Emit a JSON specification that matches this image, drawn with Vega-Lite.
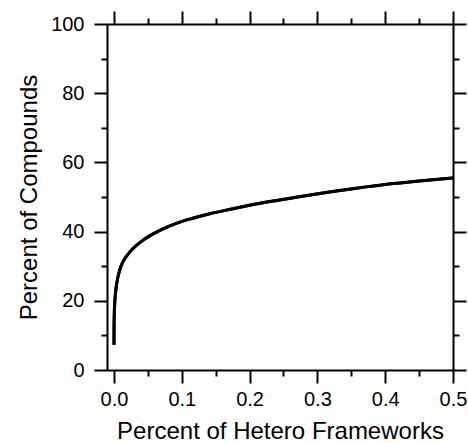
{
  "$schema": "https://vega.github.io/schema/vega-lite/v6.json",
  "width": 346,
  "height": 346,
  "autosize": {"type": "none"},
  "padding": {"left": 107, "top": 24, "right": 15, "bottom": 73},
  "config": {
    "view": {"stroke": null},
    "axis": {
      "labelFont": "Liberation Sans",
      "titleFont": "Liberation Sans",
      "labelFontSize": 20,
      "titleFontSize": 24,
      "titleFontWeight": "normal",
      "labelColor": "black",
      "titleColor": "black",
      "domainColor": "black",
      "tickColor": "black",
      "domainWidth": 2,
      "tickWidth": 2,
      "grid": false
    }
  },
  "data": {
    "values": [
      {"hetero": 0.0, "compounds": 7.3},
      {"hetero": 0.00005, "compounds": 10.0},
      {"hetero": 0.0002, "compounds": 13.5},
      {"hetero": 0.0005, "compounds": 16.5},
      {"hetero": 0.001, "compounds": 19.0},
      {"hetero": 0.002, "compounds": 21.8},
      {"hetero": 0.0035, "compounds": 24.3},
      {"hetero": 0.0055, "compounds": 26.6},
      {"hetero": 0.008, "compounds": 28.6},
      {"hetero": 0.011, "compounds": 30.3},
      {"hetero": 0.015, "compounds": 31.9},
      {"hetero": 0.02, "compounds": 33.3},
      {"hetero": 0.026, "compounds": 34.7},
      {"hetero": 0.033, "compounds": 36.0},
      {"hetero": 0.042, "compounds": 37.4},
      {"hetero": 0.052, "compounds": 38.7},
      {"hetero": 0.064, "compounds": 40.0},
      {"hetero": 0.078, "compounds": 41.3},
      {"hetero": 0.095, "compounds": 42.6},
      {"hetero": 0.115, "compounds": 43.8},
      {"hetero": 0.14, "compounds": 45.1},
      {"hetero": 0.17, "compounds": 46.4},
      {"hetero": 0.2, "compounds": 47.6},
      {"hetero": 0.24, "compounds": 49.0},
      {"hetero": 0.28, "compounds": 50.3},
      {"hetero": 0.32, "compounds": 51.5},
      {"hetero": 0.36, "compounds": 52.6},
      {"hetero": 0.4, "compounds": 53.6},
      {"hetero": 0.45, "compounds": 54.6},
      {"hetero": 0.5, "compounds": 55.5}
    ]
  },
  "layer": [
    {
      "mark": {"type": "line", "color": "black", "strokeWidth": 3, "interpolate": "monotone"},
      "encoding": {
        "x": {
          "field": "hetero",
          "type": "quantitative",
          "scale": {"domain": [-0.0103, 0.5], "nice": false, "zero": false},
          "axis": {
            "orient": "bottom",
            "title": "Percent of Hetero Frameworks",
            "values": [0, 0.05, 0.1, 0.15, 0.2, 0.25, 0.3, 0.35, 0.4, 0.45, 0.5],
            "labelExpr": "round(datum.value * 20) % 2 == 0 ? format(datum.value, '.1f') : ''",
            "tickSize": {"condition": {"test": "round(datum.value * 20) % 2 == 0", "value": 13}, "value": 6},
            "labelPadding": 6,
            "titlePadding": 10,
            "labelFlush": false,
            "labelOverlap": false
          }
        },
        "y": {
          "field": "compounds",
          "type": "quantitative",
          "scale": {"domain": [0, 100], "nice": false},
          "axis": {
            "orient": "left",
            "title": "Percent of Compounds",
            "values": [0, 10, 20, 30, 40, 50, 60, 70, 80, 90, 100],
            "labelExpr": "round(datum.value / 10) % 2 == 0 ? format(datum.value, 'd') : ''",
            "tickSize": {"condition": {"test": "round(datum.value / 10) % 2 == 0", "value": 13}, "value": 6},
            "labelPadding": 10,
            "titlePadding": 9,
            "labelFlush": false,
            "labelOverlap": false
          }
        }
      }
    },
    {
      "mark": {"type": "line", "color": "black", "strokeWidth": 3, "interpolate": "monotone"},
      "encoding": {
        "x": {
          "field": "hetero",
          "type": "quantitative",
          "axis": {
            "orient": "top",
            "title": null,
            "labels": false,
            "values": [0, 0.05, 0.1, 0.15, 0.2, 0.25, 0.3, 0.35, 0.4, 0.45, 0.5],
            "tickSize": {"condition": {"test": "round(datum.value * 20) % 2 == 0", "value": 13}, "value": 6}
          }
        },
        "y": {
          "field": "compounds",
          "type": "quantitative",
          "axis": {
            "orient": "right",
            "title": null,
            "labels": false,
            "values": [0, 10, 20, 30, 40, 50, 60, 70, 80, 90, 100],
            "tickSize": {"condition": {"test": "round(datum.value / 10) % 2 == 0", "value": 13}, "value": 6}
          }
        }
      }
    }
  ],
  "resolve": {"axis": {"x": "independent", "y": "independent"}}
}
